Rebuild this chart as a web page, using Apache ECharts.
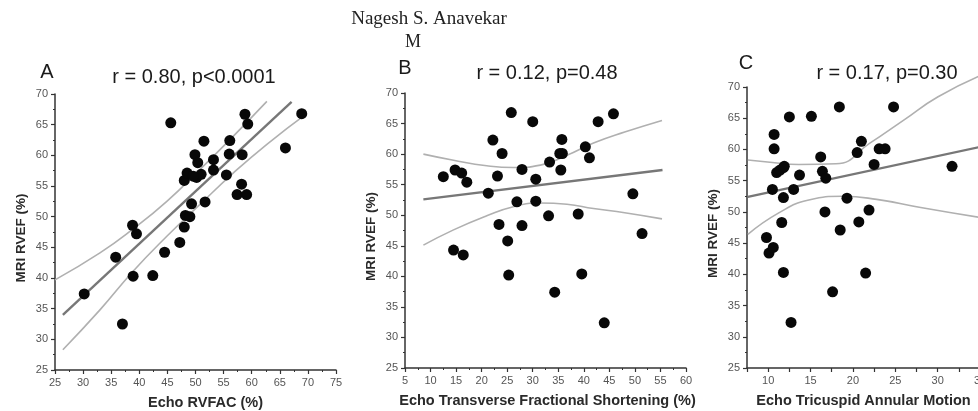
<!DOCTYPE html>
<html>
<head>
<meta charset="utf-8">
<script src="https://cdn.jsdelivr.net/npm/echarts@6/dist/echarts.min.js"></script>
<style>
  html, body { margin: 0; padding: 0; background: #fff; overflow: hidden; }
  #chart { width: 978px; height: 411px; }
</style>
</head>
<body>
<div id="chart"></div>
<script>
// ---------- Panel A: Echo RVFAC (%) vs MRI RVEF (%) ----------
const aX = [30.2, 37.0, 35.8, 38.8, 39.5, 38.9, 42.4, 44.5, 45.6, 47.2, 48.0, 48.2, 49.0, 49.3,
            48.0, 48.5, 49.9, 50.4, 50.2, 51.0, 51.5, 51.7, 53.2, 53.2, 55.5, 56.1, 56.0, 58.3,
            58.2, 57.4, 59.1, 58.8, 59.3, 66.0, 68.9, 49.6];
const aY = [37.4, 32.5, 43.4, 48.6, 47.2, 40.3, 40.4, 44.2, 65.3, 45.8, 48.3, 50.2, 50.0, 52.1,
            55.9, 57.1, 60.1, 58.8, 56.4, 56.9, 62.3, 52.4, 59.3, 57.6, 56.8, 62.4, 60.2, 60.1,
            55.3, 53.6, 53.6, 66.7, 65.1, 61.2, 66.8, 56.6];
const aFitX = [26.4, 67.1];
const aFitY = [34.0, 68.7];
const aUpperX = [25.0, 33.0, 38.9, 44.9, 50.8, 56.7, 62.7];
const aUpperY = [39.7, 44.1, 48.0, 52.5, 57.7, 63.1, 68.8];
const aLowerX = [26.4, 33.0, 38.9, 44.9, 50.8, 56.7, 62.7, 69.8];
const aLowerY = [28.3, 34.8, 41.1, 46.8, 52.0, 57.1, 61.8, 66.8];

// ---------- Panel B: Echo transverse fractional shortening (%) ----------
const bX = [12.5, 14.8, 16.1, 17.1, 14.5, 16.4, 21.3, 22.2, 23.1, 24.0, 23.4, 25.1, 25.3, 25.8,
            26.9, 27.9, 27.9, 30.0, 30.6, 30.6, 33.1, 33.3, 34.3, 35.3, 35.8, 35.7, 35.5, 38.9,
            39.6, 40.3, 41.1, 42.8, 44.0, 45.8, 49.6, 51.4];
const bY = [56.3, 57.4, 56.9, 55.4, 44.3, 43.5, 53.6, 62.3, 56.4, 60.1, 48.5, 45.8, 40.2, 66.8,
            52.2, 57.5, 48.3, 65.3, 55.9, 52.3, 49.9, 58.7, 37.4, 60.1, 60.1, 62.4, 57.4, 50.2,
            40.4, 61.2, 59.4, 65.3, 32.4, 66.6, 53.5, 47.0];
const bFitX = [8.6, 55.4];
const bFitY = [52.6, 57.4];
const bUpperX = [8.6, 14.5, 21.0, 26.2, 31.5, 36.7, 41.9, 48.0, 55.3];
const bUpperY = [60.0, 59.0, 58.1, 57.8, 58.2, 59.8, 61.8, 63.6, 65.5];
const bLowerX = [8.6, 14.5, 21.0, 26.2, 31.5, 36.7, 41.9, 48.0, 55.3];
const bLowerY = [45.1, 47.6, 49.9, 51.4, 52.0, 51.8, 51.1, 50.4, 49.4];

// ---------- Panel C: Echo tricuspid annular motion ----------
const cX = [9.8, 10.1, 10.6, 10.5, 10.7, 10.7, 11.0, 11.4, 11.8, 11.9, 11.8, 11.6, 11.8, 12.5,
            12.7, 13.0, 13.7, 15.1, 16.2, 16.4, 16.8, 16.7, 17.6, 18.4, 18.5, 19.3, 20.5, 20.7,
            21.0, 21.5, 21.9, 22.5, 23.1, 23.8, 24.8, 31.7];
const cY = [45.9, 43.4, 44.3, 53.6, 62.4, 60.1, 56.3, 56.7, 57.1, 57.3, 52.3, 48.3, 40.3, 65.2,
            32.3, 53.6, 55.9, 65.3, 58.8, 56.5, 55.4, 50.0, 37.2, 66.8, 47.1, 52.2, 59.5, 48.4,
            61.3, 40.2, 50.3, 57.6, 60.1, 60.1, 66.8, 57.3];
const cFitX = [7.6, 35.0];
const cFitY = [52.4, 60.4];
const cUpperX = [7.6, 10.5, 13.6, 18.0, 22.0, 26.0, 30.0, 35.0];
const cUpperY = [58.3, 57.9, 57.6, 57.7, 61.0, 64.7, 68.4, 71.8];
const cLowerX = [7.6, 11.2, 14.8, 18.8, 22.8, 28.0, 35.0];
const cLowerY = [46.4, 49.8, 51.9, 52.5, 52.0, 50.7, 49.1];

// ---------- Axis ranges and labels ----------
const yMin = 25, yMax = 70, yStep = 5;
const aRange = [25, 75];
const bRange = [5, 60];
const cRange = [7.5, 35];
const yName = 'MRI RVEF (%)';
const xNames = ['Echo RVFAC (%)', 'Echo Transverse Fractional Shortening (%)', 'Echo Tricuspid Annular Motion'];
const panelLetters = ['A', 'B', 'C'];
const panelStats = ['r = 0.80, p<0.0001', 'r = 0.12, p=0.48', 'r = 0.17, p=0.30'];
const authorLine = 'Nagesh S. Anavekar';
const authorSub = 'M';

const zip = (xs, ys) => xs.map((x, i) => [x, ys[i]]);

const SANS = '"Liberation Sans", Arial, sans-serif';
const SERIF = '"Liberation Serif", "Times New Roman", serif';
const axisColor = '#333';
const labelColor = '#555';

// fixed plot rectangles; the third panel runs slightly past the right edge of the page
const grids = [
  { left: 55,  top: 94, width: 281, height: 276, outerBoundsMode: 'none', containLabel: false },
  { left: 405, top: 93, width: 281, height: 275, outerBoundsMode: 'none', containLabel: false },
  { left: 747, top: 87, width: 233, height: 281, outerBoundsMode: 'none', containLabel: false }
];
// horizontal nudges of the x-axis titles (left padding shifts right)
const xNamePad = [[0, 0, 0, 20], [0, 0, 0, 4], [0, 0, 0, 0]];

function yAxisFor(i) {
  return {
    type: 'value', gridIndex: i, min: yMin, max: yMax, interval: yStep,
    name: yName, nameLocation: 'middle', nameGap: 27, nameRotate: 90,
    nameTextStyle: { fontFamily: SANS, fontSize: 13.5, fontWeight: 'bold', color: '#2a2a2a', padding: [0, 12, 0, 0] },
    axisLine: { show: true, lineStyle: { color: axisColor, width: 1.5 } },
    axisTick: { show: true, length: 4, lineStyle: { color: axisColor, width: 1.2 } },
    minorTick: { show: true, splitNumber: 2, length: 2, lineStyle: { color: axisColor, width: 1 } },
    axisLabel: { fontFamily: SANS, fontSize: 11, color: labelColor, margin: 7 },
    splitLine: { show: false }
  };
}

function xAxisFor(i, range, interval, labelFmt, minor) {
  return {
    type: 'value', gridIndex: i, min: range[0], max: range[1], interval: interval,
    name: xNames[i], nameLocation: 'middle', nameGap: 25,
    nameTextStyle: { fontFamily: SANS, fontSize: 14.5, fontWeight: 'bold', color: '#2a2a2a', padding: xNamePad[i] },
    axisLine: { show: true, onZero: false, lineStyle: { color: axisColor, width: 1.5 } },
    axisTick: { show: true, length: 4, lineStyle: { color: axisColor, width: 1.2 } },
    minorTick: { show: minor, splitNumber: 2, length: 2, lineStyle: { color: axisColor, width: 1 } },
    axisLabel: { fontFamily: SANS, fontSize: 11, color: labelColor, margin: 7, formatter: labelFmt, hideOverlap: false },
    splitLine: { show: false }
  };
}

function panelSeries(i, xs, ys, fitX, fitY, upX, upY, loX, loY) {
  const bandStyle = { color: '#b0b0b0', width: 1.6 };
  return [
    { type: 'line', xAxisIndex: i, yAxisIndex: i, data: zip(upX, upY), smooth: 0.5, clip: false,
      showSymbol: false, lineStyle: bandStyle, silent: true, z: 2 },
    { type: 'line', xAxisIndex: i, yAxisIndex: i, data: zip(loX, loY), smooth: 0.5, clip: false,
      showSymbol: false, lineStyle: bandStyle, silent: true, z: 2 },
    { type: 'line', xAxisIndex: i, yAxisIndex: i, data: zip(fitX, fitY), clip: false,
      showSymbol: false, lineStyle: { color: '#777', width: 2.4 }, silent: true, z: 3 },
    { type: 'scatter', xAxisIndex: i, yAxisIndex: i, data: zip(xs, ys), symbolSize: 11,
      itemStyle: { color: '#080808', opacity: 1 }, z: 4 }
  ];
}

const cFmt = v => (Math.abs(v % 5) < 1e-9 ? String(v) : '');

const letterPos = [[47, 72], [405, 68], [746, 63]];
const statPos = [[194, 77], [547, 73], [887, 73]];

const graphics = [
  { type: 'text', x: 429, y: 19, style: { text: authorLine, font: '19px ' + SERIF,
    fill: '#222', textAlign: 'center', textVerticalAlign: 'middle' } },
  { type: 'text', x: 413, y: 42, style: { text: authorSub, font: '18px ' + SERIF,
    fill: '#222', textAlign: 'center', textVerticalAlign: 'middle' } }
];
panelLetters.forEach((t, i) => graphics.push({ type: 'text', x: letterPos[i][0], y: letterPos[i][1],
  style: { text: t, font: '20px ' + SANS, fill: '#1a1a1a', textAlign: 'center', textVerticalAlign: 'middle' } }));
panelStats.forEach((t, i) => graphics.push({ type: 'text', x: statPos[i][0], y: statPos[i][1],
  style: { text: t, font: '20px ' + SANS, fill: '#1a1a1a', textAlign: 'center', textVerticalAlign: 'middle' } }));

const chart = echarts.init(document.getElementById('chart'), null, { renderer: 'canvas' });
chart.setOption({
  backgroundColor: '#ffffff',
  animation: false,
  grid: grids,
  xAxis: [
    xAxisFor(0, aRange, 5, null, true),
    xAxisFor(1, bRange, 5, null, true),
    xAxisFor(2, cRange, 2.5, cFmt, false)
  ],
  yAxis: [yAxisFor(0), yAxisFor(1), yAxisFor(2)],
  series: [
    ...panelSeries(0, aX, aY, aFitX, aFitY, aUpperX, aUpperY, aLowerX, aLowerY),
    ...panelSeries(1, bX, bY, bFitX, bFitY, bUpperX, bUpperY, bLowerX, bLowerY),
    ...panelSeries(2, cX, cY, cFitX, cFitY, cUpperX, cUpperY, cLowerX, cLowerY)
  ],
  graphic: graphics
});
</script>
</body>
</html>
